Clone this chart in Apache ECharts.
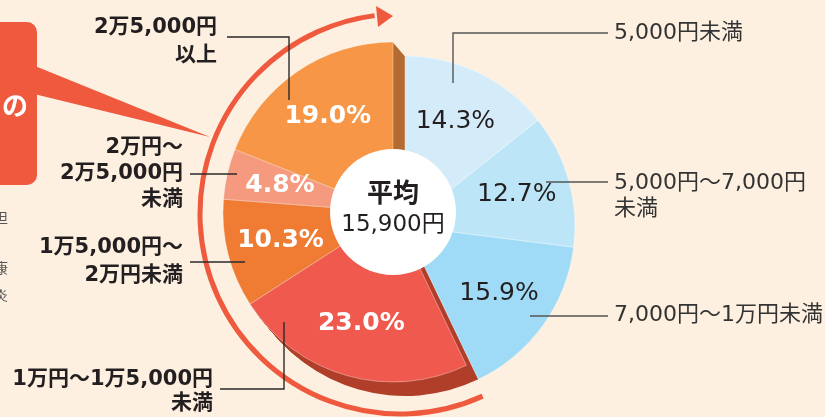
<!DOCTYPE html>
<html>
<head>
<meta charset="utf-8">
<script src="https://cdn.jsdelivr.net/npm/echarts@6/dist/echarts.min.js"></script>
<style>
  html, body { margin: 0; padding: 0; background: #fdf0e0; }
  #chart { width: 825px; height: 417px; }
</style>
</head>
<body>
<div id="chart"></div>
<script>
// 金額帯（時計回り、12時から）
const categories = [
  '5,000円未満',
  '5,000円〜7,000円\n未満',
  '7,000円〜1万円未満',
  '1万円〜1万5,000円\n未満',
  '1万5,000円〜\n2万円未満',
  '2万円〜\n2万5,000円\n未満',
  '2万5,000円\n以上'
];
const shares = [14.3, 12.7, 15.9, 23.0, 10.3, 4.8, 19.0];
// true = 暖色グループ（少し浮かせて描く）
const isWarm = [false, false, false, true, true, true, true];
const averageText = ['平均', '15,900円'];

const topColors = ['#d4ecfa', '#bde5f8', '#9fdaf6', '#f05a4e', '#f07b33', '#f59a7e', '#f69646'];
const sideColors = ['#000', '#000', '#000', '#b03f2a', '#b45a2a', '#b45a2a', '#b46c33'];

// 配置（データとは別）
const blueCenter = [405, 226];
const warmCenter = [393, 212];
const R = 170;
const labelBoxes = [
  { x: 614, y: 20, align: 'left', lh: 26 },
  { x: 614, y: 170, align: 'left', lh: 26 },
  { x: 614, y: 302, align: 'left', lh: 26 },
  { x: 213, y: 368, align: 'right', lh: 24 },
  { x: 183, y: 234, align: 'right', lh: 28 },
  { x: 183, y: 135, align: 'right', lh: 26 },
  { x: 217, y: 14, align: 'right', lh: 28 }
];
const leaderPaths = [
  [[453, 83], [453, 33], [608, 33]],
  [[546, 182], [608, 182]],
  [[530, 316], [608, 316]],
  [[284, 322], [284, 389], [220, 389]],
  [[245, 262], [190, 262]],
  [[237, 174], [190, 174]],
  [[289, 100], [289, 37], [227, 37]]
];

const clear = 'rgba(0,0,0,0)';

function sliceData(warmGroup, colors, withBorder) {
  return shares.map((v, i) => {
    const on = isWarm[i] === warmGroup;
    return {
      value: v,
      name: categories[i],
      itemStyle: on
        ? { color: colors[i], borderColor: 'rgba(255,255,255,0.35)', borderWidth: withBorder ? 1 : 0 }
        : { color: clear, borderWidth: 0 }
    };
  });
}

function labelData(warmGroup) {
  return shares.map((v, i) => {
    const on = isWarm[i] === warmGroup;
    return {
      value: v,
      name: categories[i],
      itemStyle: { color: clear, borderWidth: 0 },
      label: {
        show: on,
        formatter: v.toFixed(1) + '%',
        color: warmGroup ? '#ffffff' : '#231f20',
        fontWeight: warmGroup ? 'bold' : 'normal'
      }
    };
  });
}

const basePie = {
  type: 'pie',
  startAngle: 90,
  clockwise: true,
  silent: true,
  animation: false,
  label: { show: false },
  labelLine: { show: false },
  emphasis: { disabled: true }
};

const series = [];
// 側面（暖色グループの厚み）
const steps = 14;
for (let s = 0; s < steps; s++) {
  const t = s / steps;
  series.push(Object.assign({}, basePie, {
    center: [blueCenter[0] + (warmCenter[0] - blueCenter[0]) * t, blueCenter[1] + (warmCenter[1] - blueCenter[1]) * t],
    radius: [0, R],
    data: sliceData(true, sideColors, false)
  }));
}
// 青グループ
series.push(Object.assign({}, basePie, {
  center: blueCenter, radius: [0, R], data: sliceData(false, topColors, true)
}));
// 暖色グループ上面
series.push(Object.assign({}, basePie, {
  center: warmCenter, radius: [0, R], data: sliceData(true, topColors, true)
}));
// 割合ラベル
series.push(Object.assign({}, basePie, {
  center: blueCenter, radius: [56, R], data: labelData(false),
  label: { show: true, position: 'inside', fontSize: 25, fontFamily: 'DejaVu Sans' }
}));
series.push(Object.assign({}, basePie, {
  center: warmCenter, radius: [56, R], data: labelData(true),
  label: { show: true, position: 'inside', fontSize: 25, fontFamily: 'DejaVu Sans' }
}));

const graphics = [];
// 左の吹き出し
graphics.push({
  type: 'rect', z: 1,
  shape: { x: -30, y: 22, width: 67, height: 163, r: 10 },
  style: { fill: '#ef5a3f' }
});
graphics.push({
  type: 'polygon', z: 1,
  shape: { points: [[30, 64], [210, 137], [30, 93]] },
  style: { fill: '#ef5a3f' }
});
graphics.push({
  type: 'text', z: 2, x: 28, y: 105,
  style: { text: 'の', fill: '#fff', font: 'bold 26px "Noto Sans CJK JP"', align: 'right', verticalAlign: 'middle' }
});
// 左端の切れた本文
[['担', 218], ['康', 268], ['炎', 295]].forEach(([ch, y]) => {
  graphics.push({
    type: 'text', z: 1, x: -6, y: y,
    style: { text: ch, fill: '#555', font: '14px "Noto Sans CJK JP"', verticalAlign: 'middle' }
  });
});
// 周りの矢印
graphics.push({
  type: 'arc', z: 1,
  shape: { cx: 400, cy: 214, r: 200, startAngle: 65.6 * Math.PI / 180, endAngle: 262.7 * Math.PI / 180, clockwise: true },
  style: { stroke: '#ef5a3f', lineWidth: 5, fill: null }
});
graphics.push({
  type: 'polygon', z: 1,
  shape: { points: [[376, 6], [393, 16], [378, 27]] },
  style: { fill: '#ef5a3f' }
});
// 中央の円
graphics.push({
  type: 'circle', z: 100,
  shape: { cx: warmCenter[0], cy: warmCenter[1], r: 63 },
  style: { fill: '#ffffff' }
});
graphics.push({
  type: 'text', z: 101, x: warmCenter[0], y: warmCenter[1] - 20,
  style: { text: averageText[0], fill: '#231f20', font: 'bold 26px "Noto Sans CJK JP"', align: 'center', verticalAlign: 'middle' }
});
graphics.push({
  type: 'text', z: 101, x: warmCenter[0], y: warmCenter[1] + 13,
  style: { text: averageText[1], fill: '#231f20', font: '23px "DejaVu Sans", "Noto Sans CJK JP"', align: 'center', verticalAlign: 'middle' }
});
// 引き出し線とカテゴリ名
categories.forEach((name, i) => {
  const left = isWarm[i];
  graphics.push({
    type: 'polyline', z: 5,
    shape: { points: leaderPaths[i] },
    style: { stroke: left ? '#2a2a2a' : '#555', lineWidth: 1.4, fill: null }
  });
  const b = labelBoxes[i];
  graphics.push({
    type: 'text', z: 5, x: b.x, y: b.y,
    style: {
      text: name,
      fill: left ? '#231f20' : '#333',
      font: (left ? 'bold 21px' : '22px') + ' "DejaVu Sans", "Noto Sans CJK JP"',
      align: b.align,
      verticalAlign: 'top',
      lineHeight: b.lh
    }
  });
});

const chart = echarts.init(document.getElementById('chart'));
chart.setOption({
  backgroundColor: '#fdf0e0',
  animation: false,
  series: series,
  graphic: { elements: graphics }
});
</script>
</body>
</html>
